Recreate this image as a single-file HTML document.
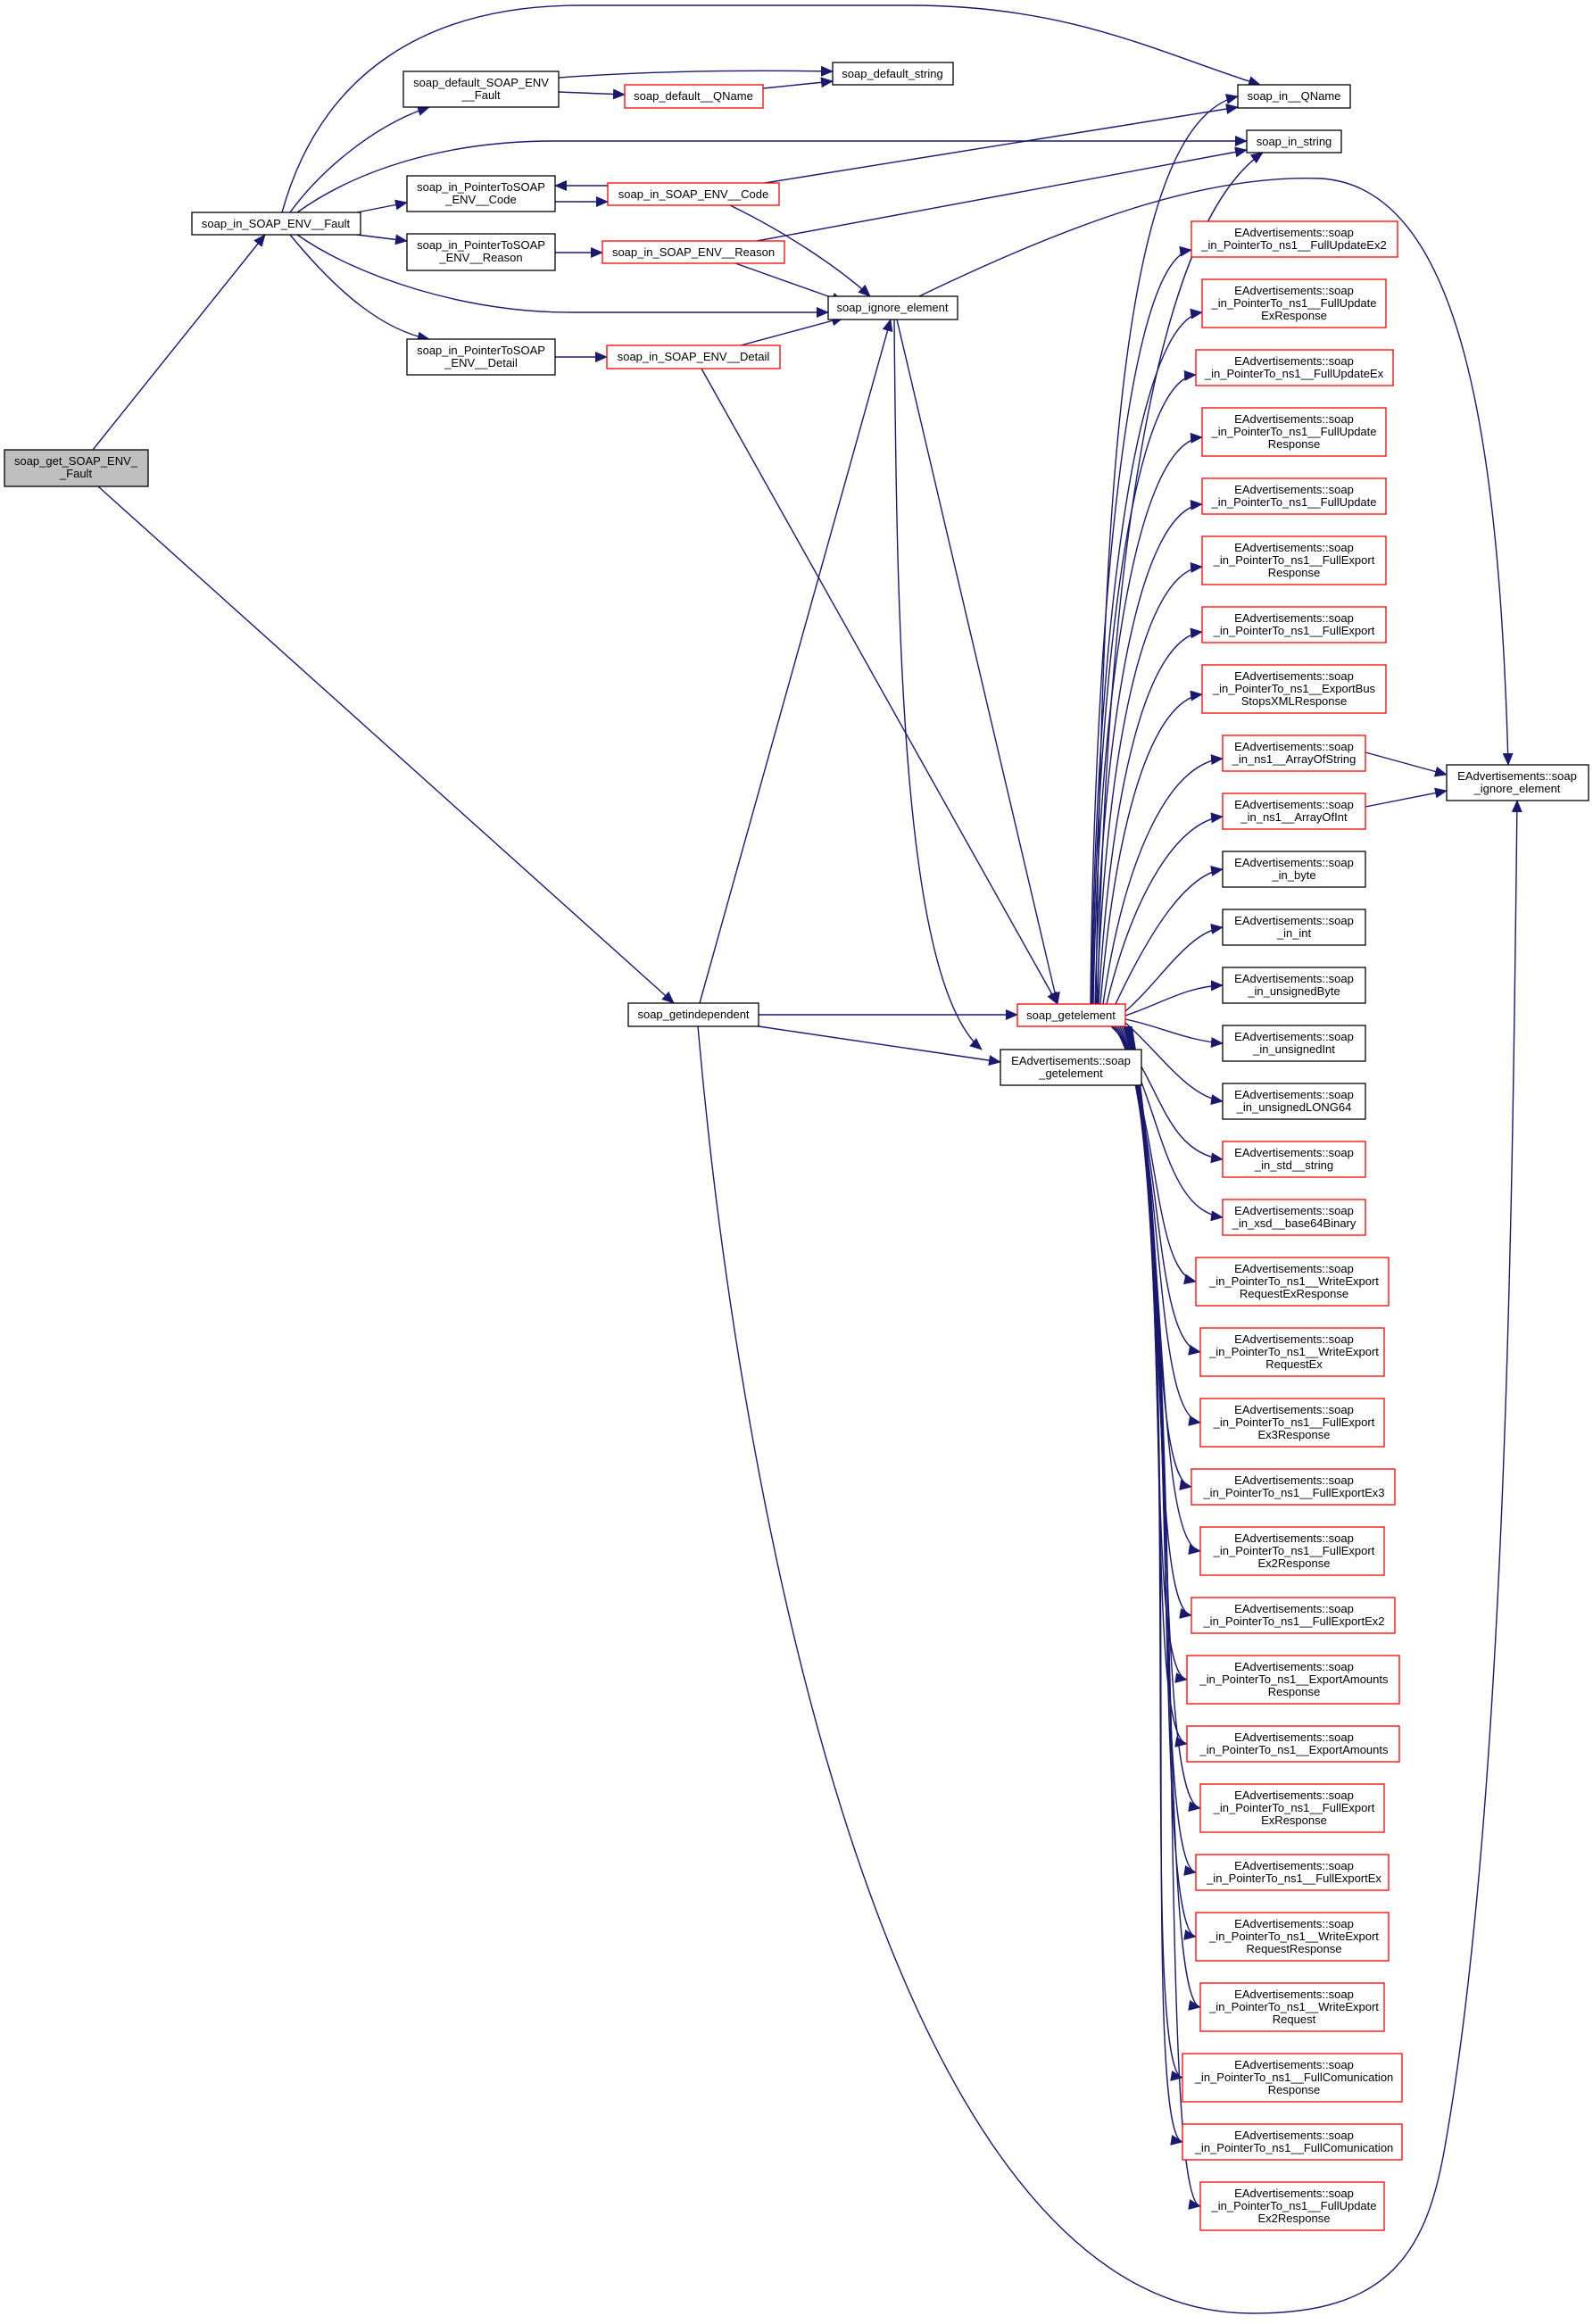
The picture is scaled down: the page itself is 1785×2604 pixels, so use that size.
<!DOCTYPE html>
<html><head><meta charset="utf-8"><style>
html,body{margin:0;padding:0;background:#fff;}
svg{display:block;}
text{font-family:"Liberation Sans",Arial,sans-serif;font-size:13px;fill:#000;text-anchor:middle;}
.e{fill:none;stroke:#191970;stroke-width:1.4;marker-end:url(#a);}
.k{fill:#fff;stroke:#000;stroke-width:1.3;}
.r{fill:#fff;stroke:#ff0000;stroke-width:1.3;}
</style></head><body>
<svg width="1785" height="2604" viewBox="0 0 1785 2604" xmlns="http://www.w3.org/2000/svg">
<defs><marker id="a" markerUnits="userSpaceOnUse" markerWidth="14" markerHeight="12" refX="13" refY="6" orient="auto"><path d="M0,0 L14,6 L0,12 z" fill="#191970"/></marker></defs>

<path class="e" d="M104,504 L297,263"/>
<path class="e" d="M110,545 L755,1124"/>
<path class="e" d="M316,238 C360,80 480,6 650,6 L1020,6 C1200,6 1300,60 1412,95"/>
<path class="e" d="M325,238 C360,190 420,140 481,120"/>
<path class="e" d="M333,238 C400,190 500,158 620,158 L1397,158"/>
<path class="e" d="M400,238 L456,227"/>
<path class="e" d="M400,263 L456,270"/>
<path class="e" d="M333,263 C400,310 520,350 640,350 L928,350"/>
<path class="e" d="M325,263 C380,330 430,370 481,380"/>
<path class="e" d="M626,87 C720,80 820,78 933,80"/>
<path class="e" d="M626,103 L700,106"/>
<path class="e" d="M855,99 L933,91"/>
<path class="e" d="M622,226 L681,226"/>
<path class="e" d="M681,208 L622,208"/>
<path class="e" d="M622,283 L675,283"/>
<path class="e" d="M622,400 L680,400"/>
<path class="e" d="M857,205 L1387,120"/>
<path class="e" d="M818,230 C880,260 940,300 975,332"/>
<path class="e" d="M848,270 L1397,168"/>
<path class="e" d="M824,295 L945,338"/>
<path class="e" d="M830,387 L945,356"/>
<path class="e" d="M786,413 L1185,1125"/>
<path class="e" d="M1030,332 C1200,250 1350,195 1480,200 C1640,210 1680,500 1690,857"/>
<path class="e" d="M1005,358 L1185,1125"/>
<path class="e" d="M1002,358 C1005,700 1010,1100 1100,1176"/>
<path class="e" d="M784,1124 L998,358"/>
<path class="e" d="M850,1137 L1140,1137"/>
<path class="e" d="M850,1150 L1121,1190"/>
<path class="e" d="M782,1150 C830,1700 1000,2590 1400,2592 C1560,2594 1600,2520 1620,2400 C1690,2000 1695,1300 1700,897"/>
<path class="e" d="M1228,1125 C1235,600 1250,140 1387,108"/>
<path class="e" d="M1230,1125 C1240,600 1300,250 1415,171"/>
<path class="e" d="M1530,843 L1621,868"/>
<path class="e" d="M1530,904 L1621,886"/>
<path class="e" d="M1222,1125 C1226,700 1262,290 1335,280"/>
<path class="e" d="M1223,1125 C1228,720 1270,360 1347,350"/>
<path class="e" d="M1224,1125 C1230,740 1270,425 1340,420"/>
<path class="e" d="M1225,1125 C1232,760 1275,495 1347,490"/>
<path class="e" d="M1227,1125 C1235,800 1278,570 1347,565"/>
<path class="e" d="M1229,1125 C1240,840 1280,640 1347,635"/>
<path class="e" d="M1231,1125 C1245,880 1285,715 1347,708"/>
<path class="e" d="M1233,1125 C1250,920 1290,785 1347,778"/>
<path class="e" d="M1236,1125 C1260,960 1310,855 1370,850"/>
<path class="e" d="M1240,1125 C1270,1000 1320,920 1370,915"/>
<path class="e" d="M1250,1125 C1290,1040 1330,980 1370,974"/>
<path class="e" d="M1261,1133 C1300,1100 1330,1045 1370,1039"/>
<path class="e" d="M1261,1138 C1300,1125 1330,1105 1370,1104"/>
<path class="e" d="M1261,1142 C1300,1150 1330,1166 1370,1169"/>
<path class="e" d="M1261,1146 C1300,1180 1330,1228 1370,1234"/>
<path class="e" d="M1245,1150 C1300,1200 1300,1290 1370,1299"/>
<path class="e" d="M1247,1150 C1300,1220 1300,1355 1370,1364"/>
<path class="e" d="M1249,1150 C1300,1240 1290,1425 1340,1436"/>
<path class="e" d="M1251,1150 C1305,1260 1290,1505 1345,1515"/>
<path class="e" d="M1253,1150 C1308,1280 1290,1585 1345,1594"/>
<path class="e" d="M1255,1150 C1310,1300 1285,1658 1335,1666"/>
<path class="e" d="M1257,1150 C1312,1320 1290,1730 1345,1738"/>
<path class="e" d="M1259,1150 C1314,1340 1285,1802 1335,1810"/>
<path class="e" d="M1260,1150 C1316,1360 1280,1874 1330,1882"/>
<path class="e" d="M1261,1150 C1318,1380 1280,1946 1330,1954"/>
<path class="e" d="M1262,1150 C1320,1400 1290,2018 1345,2026"/>
<path class="e" d="M1263,1150 C1322,1420 1290,2090 1340,2098"/>
<path class="e" d="M1264,1150 C1324,1440 1290,2162 1340,2170"/>
<path class="e" d="M1265,1150 C1326,1460 1295,2241 1345,2249"/>
<path class="e" d="M1266,1150 C1328,1480 1275,2320 1325,2328"/>
<path class="e" d="M1267,1150 C1330,1500 1275,2392 1325,2400"/>
<path class="e" d="M1268,1150 C1332,1520 1295,2464 1345,2472"/>

<rect x="5" y="504" width="161" height="41" fill="#bfbfbf" stroke="#000" stroke-width="1.3"/>
<text x="85" y="521">soap_get_SOAP_ENV_</text><text x="85" y="535">_Fault</text>
<rect class="k" x="215" y="238" width="189" height="25"/><text x="309" y="255">soap_in_SOAP_ENV__Fault</text>
<rect class="k" x="452" y="80" width="174" height="40"/><text x="539" y="97">soap_default_SOAP_ENV</text><text x="539" y="111">__Fault</text>
<rect class="r" x="700" y="95" width="155" height="26"/><text x="777" y="112">soap_default__QName</text>
<rect class="k" x="933" y="70" width="135" height="25"/><text x="1000" y="87">soap_default_string</text>
<rect class="k" x="1387" y="95" width="126" height="26"/><text x="1450" y="112">soap_in__QName</text>
<rect class="k" x="1397" y="146" width="106" height="25"/><text x="1450" y="163">soap_in_string</text>
<rect class="k" x="456" y="197" width="166" height="40"/><text x="539" y="214">soap_in_PointerToSOAP</text><text x="539" y="228">_ENV__Code</text>
<rect class="r" x="681" y="205" width="192" height="25"/><text x="777" y="222">soap_in_SOAP_ENV__Code</text>
<rect class="k" x="456" y="262" width="166" height="41"/><text x="539" y="279">soap_in_PointerToSOAP</text><text x="539" y="293">_ENV__Reason</text>
<rect class="r" x="675" y="270" width="204" height="25"/><text x="777" y="287">soap_in_SOAP_ENV__Reason</text>
<rect class="k" x="456" y="380" width="166" height="40"/><text x="539" y="397">soap_in_PointerToSOAP</text><text x="539" y="411">_ENV__Detail</text>
<rect class="r" x="680" y="387" width="194" height="26"/><text x="777" y="404">soap_in_SOAP_ENV__Detail</text>
<rect class="k" x="928" y="332" width="145" height="26"/><text x="1000" y="349">soap_ignore_element</text>
<rect class="k" x="704" y="1124" width="146" height="26"/><text x="777" y="1141">soap_getindependent</text>
<rect class="r" x="1140" y="1125" width="121" height="25"/><text x="1200" y="1142">soap_getelement</text>
<rect class="k" x="1121" y="1176" width="158" height="40"/><text x="1200" y="1193">EAdvertisements::soap</text><text x="1200" y="1207">_getelement</text>
<rect class="k" x="1621" y="857" width="159" height="40"/><text x="1700" y="874">EAdvertisements::soap</text><text x="1700" y="888">_ignore_element</text>

<rect class="r" x="1335" y="248" width="231" height="40"/><text x="1450" y="265">EAdvertisements::soap</text><text x="1450" y="279">_in_PointerTo_ns1__FullUpdateEx2</text>
<rect class="r" x="1347" y="313" width="206" height="54"/><text x="1450" y="330">EAdvertisements::soap</text><text x="1450" y="344">_in_PointerTo_ns1__FullUpdate</text><text x="1450" y="358">ExResponse</text>
<rect class="r" x="1340" y="392" width="221" height="40"/><text x="1450" y="409">EAdvertisements::soap</text><text x="1450" y="423">_in_PointerTo_ns1__FullUpdateEx</text>
<rect class="r" x="1347" y="457" width="206" height="54"/><text x="1450" y="474">EAdvertisements::soap</text><text x="1450" y="488">_in_PointerTo_ns1__FullUpdate</text><text x="1450" y="502">Response</text>
<rect class="r" x="1347" y="536" width="206" height="40"/><text x="1450" y="553">EAdvertisements::soap</text><text x="1450" y="567">_in_PointerTo_ns1__FullUpdate</text>
<rect class="r" x="1347" y="601" width="206" height="54"/><text x="1450" y="618">EAdvertisements::soap</text><text x="1450" y="632">_in_PointerTo_ns1__FullExport</text><text x="1450" y="646">Response</text>
<rect class="r" x="1347" y="680" width="206" height="40"/><text x="1450" y="697">EAdvertisements::soap</text><text x="1450" y="711">_in_PointerTo_ns1__FullExport</text>
<rect class="r" x="1347" y="745" width="206" height="54"/><text x="1450" y="762">EAdvertisements::soap</text><text x="1450" y="776">_in_PointerTo_ns1__ExportBus</text><text x="1450" y="790">StopsXMLResponse</text>
<rect class="r" x="1370" y="824" width="160" height="40"/><text x="1450" y="841">EAdvertisements::soap</text><text x="1450" y="855">_in_ns1__ArrayOfString</text>
<rect class="r" x="1370" y="889" width="160" height="40"/><text x="1450" y="906">EAdvertisements::soap</text><text x="1450" y="920">_in_ns1__ArrayOfInt</text>
<rect class="k" x="1370" y="954" width="160" height="40"/><text x="1450" y="971">EAdvertisements::soap</text><text x="1450" y="985">_in_byte</text>
<rect class="k" x="1370" y="1019" width="160" height="40"/><text x="1450" y="1036">EAdvertisements::soap</text><text x="1450" y="1050">_in_int</text>
<rect class="k" x="1370" y="1084" width="160" height="40"/><text x="1450" y="1101">EAdvertisements::soap</text><text x="1450" y="1115">_in_unsignedByte</text>
<rect class="k" x="1370" y="1149" width="160" height="40"/><text x="1450" y="1166">EAdvertisements::soap</text><text x="1450" y="1180">_in_unsignedInt</text>
<rect class="k" x="1370" y="1214" width="160" height="40"/><text x="1450" y="1231">EAdvertisements::soap</text><text x="1450" y="1245">_in_unsignedLONG64</text>
<rect class="r" x="1370" y="1279" width="160" height="40"/><text x="1450" y="1296">EAdvertisements::soap</text><text x="1450" y="1310">_in_std__string</text>
<rect class="r" x="1370" y="1344" width="160" height="40"/><text x="1450" y="1361">EAdvertisements::soap</text><text x="1450" y="1375">_in_xsd__base64Binary</text>
<rect class="r" x="1340" y="1409" width="216" height="54"/><text x="1450" y="1426">EAdvertisements::soap</text><text x="1450" y="1440">_in_PointerTo_ns1__WriteExport</text><text x="1450" y="1454">RequestExResponse</text>
<rect class="r" x="1345" y="1488" width="206" height="54"/><text x="1450" y="1505">EAdvertisements::soap</text><text x="1450" y="1519">_in_PointerTo_ns1__WriteExport</text><text x="1450" y="1533">RequestEx</text>
<rect class="r" x="1345" y="1567" width="206" height="54"/><text x="1450" y="1584">EAdvertisements::soap</text><text x="1450" y="1598">_in_PointerTo_ns1__FullExport</text><text x="1450" y="1612">Ex3Response</text>
<rect class="r" x="1335" y="1646" width="228" height="40"/><text x="1450" y="1663">EAdvertisements::soap</text><text x="1450" y="1677">_in_PointerTo_ns1__FullExportEx3</text>
<rect class="r" x="1345" y="1711" width="206" height="54"/><text x="1450" y="1728">EAdvertisements::soap</text><text x="1450" y="1742">_in_PointerTo_ns1__FullExport</text><text x="1450" y="1756">Ex2Response</text>
<rect class="r" x="1335" y="1790" width="228" height="40"/><text x="1450" y="1807">EAdvertisements::soap</text><text x="1450" y="1821">_in_PointerTo_ns1__FullExportEx2</text>
<rect class="r" x="1330" y="1855" width="238" height="54"/><text x="1450" y="1872">EAdvertisements::soap</text><text x="1450" y="1886">_in_PointerTo_ns1__ExportAmounts</text><text x="1450" y="1900">Response</text>
<rect class="r" x="1330" y="1934" width="238" height="40"/><text x="1450" y="1951">EAdvertisements::soap</text><text x="1450" y="1965">_in_PointerTo_ns1__ExportAmounts</text>
<rect class="r" x="1345" y="1999" width="206" height="54"/><text x="1450" y="2016">EAdvertisements::soap</text><text x="1450" y="2030">_in_PointerTo_ns1__FullExport</text><text x="1450" y="2044">ExResponse</text>
<rect class="r" x="1340" y="2078" width="216" height="40"/><text x="1450" y="2095">EAdvertisements::soap</text><text x="1450" y="2109">_in_PointerTo_ns1__FullExportEx</text>
<rect class="r" x="1340" y="2143" width="216" height="54"/><text x="1450" y="2160">EAdvertisements::soap</text><text x="1450" y="2174">_in_PointerTo_ns1__WriteExport</text><text x="1450" y="2188">RequestResponse</text>
<rect class="r" x="1345" y="2222" width="206" height="54"/><text x="1450" y="2239">EAdvertisements::soap</text><text x="1450" y="2253">_in_PointerTo_ns1__WriteExport</text><text x="1450" y="2267">Request</text>
<rect class="r" x="1325" y="2301" width="246" height="54"/><text x="1450" y="2318">EAdvertisements::soap</text><text x="1450" y="2332">_in_PointerTo_ns1__FullComunication</text><text x="1450" y="2346">Response</text>
<rect class="r" x="1325" y="2380" width="246" height="40"/><text x="1450" y="2397">EAdvertisements::soap</text><text x="1450" y="2411">_in_PointerTo_ns1__FullComunication</text>
<rect class="r" x="1345" y="2445" width="206" height="54"/><text x="1450" y="2462">EAdvertisements::soap</text><text x="1450" y="2476">_in_PointerTo_ns1__FullUpdate</text><text x="1450" y="2490">Ex2Response</text>
</svg>
</body></html>
